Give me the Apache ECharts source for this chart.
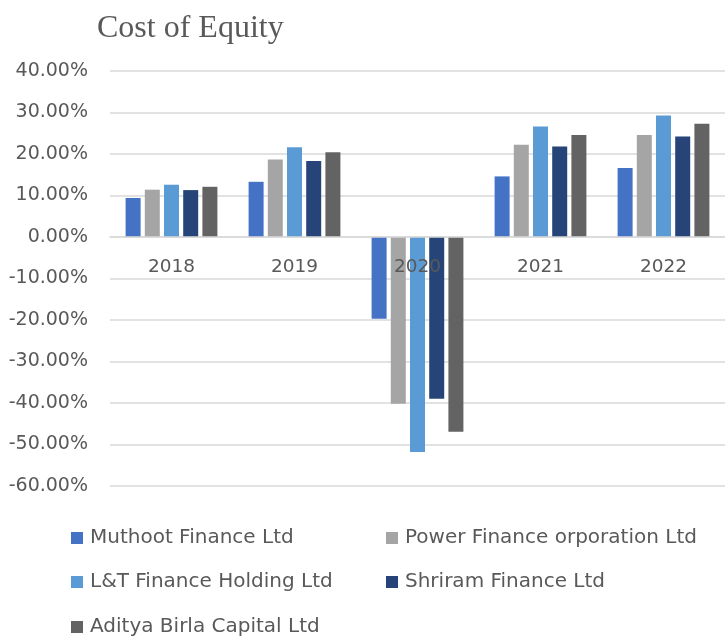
<!DOCTYPE html>
<html>
<head>
<meta charset="utf-8">
<script src="https://cdn.jsdelivr.net/npm/echarts@6/dist/echarts.min.js"></script>
<style>
  html, body { margin: 0; padding: 0; background: #fff; }
  #main { width: 725px; height: 637px; }
</style>
</head>
<body>
<div id="main"></div>
<script>
// years on the x axis
const years = ['2018', '2019', '2020', '2021', '2022'];

// cost of equity per company, in percent
const muthoot = [9.4, 13.3, -19.7, 14.6, 16.6];
const powerFinance = [11.4, 18.7, -40.2, 22.2, 24.6];
const ltFinance = [12.6, 21.6, -51.8, 26.6, 29.3];
const shriram = [11.3, 18.3, -39.0, 21.8, 24.2];
const adityaBirla = [12.1, 20.4, -46.9, 24.6, 27.3];

const names = [
    'Muthoot Finance Ltd',
    'Power Finance orporation Ltd',
    'L&T Finance Holding Ltd',
    'Shriram Finance Ltd',
    'Aditya Birla Capital Ltd'
];
const colors = ['#4472C4', '#A5A5A5', '#5B9BD5', '#264478', '#636363'];
const values = [muthoot, powerFinance, ltFinance, shriram, adityaBirla];

const yMin = -60, yMax = 40;
const font = 'DejaVu Sans';
const textColor = '#595959';

const gridTop = 71, gridHeight = 415;
// the category axis sits on the 0% line (onZero is not honoured here, so shift it)
const zeroOffset = -gridHeight * (0 - yMin) / (yMax - yMin);

// legend spots (two columns, three rows)
const legendPos = [[66, 523], [381, 523], [66, 567], [381, 567], [66, 612]];

let myChart = echarts.init(document.getElementById('main'));
myChart.setOption({
    animation: false,
    title: {
        text: 'Cost of Equity',
        left: 92,
        top: 8,
        textStyle: { fontFamily: 'Liberation Serif', fontSize: 32, fontWeight: 'normal', color: textColor }
    },
    legend: names.map((n, i) => ({
        data: [n],
        left: legendPos[i][0],
        top: legendPos[i][1],
        itemWidth: 12,
        itemHeight: 12,
        itemGap: 6,
        icon: 'rect',
        textStyle: { fontFamily: font, fontSize: 20, color: textColor, padding: [0, 0, 0, 2] }
    })),
    grid: { left: 110, top: gridTop, width: 624, height: gridHeight, containLabel: false },
    xAxis: {
        type: 'category',
        data: years,
        offset: zeroOffset,
        z: 5,
        axisLine: { onZero: false, lineStyle: { color: '#D9D9D9', width: 1.5 } },
        axisTick: { show: false },
        axisLabel: { fontFamily: font, fontSize: 18.5, color: textColor, margin: 21 }
    },
    yAxis: {
        type: 'value',
        min: yMin,
        max: yMax,
        interval: 10,
        axisLine: { show: false },
        axisTick: { show: false },
        splitLine: { lineStyle: { color: '#D9D9D9', width: 1.5 } },
        axisLabel: {
            fontFamily: font, fontSize: 19, color: textColor, margin: 22,
            formatter: v => v.toFixed(2) + '%'
        }
    },
    series: names.map((n, i) => ({
        name: n,
        type: 'bar',
        data: values[i],
        barWidth: 15,
        barGap: '28%',
        itemStyle: { color: colors[i] }
    }))
});
</script>
</body>
</html>
